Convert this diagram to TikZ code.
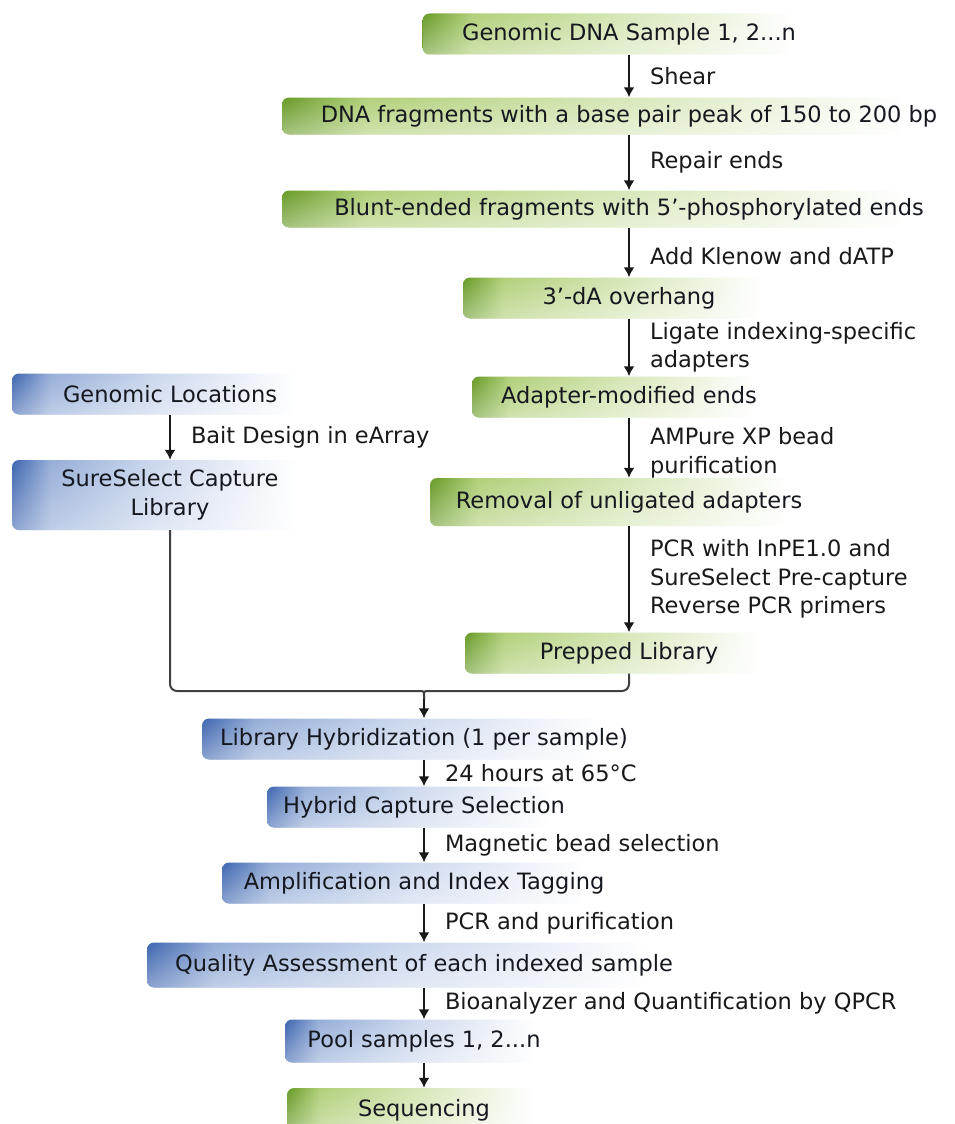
\documentclass[tikz,border=0pt]{standalone}
\usepackage{fontspec}
\setmainfont{DejaVu Sans}
\usetikzlibrary{arrows.meta,fadings}

\definecolor{grLeft}{RGB}{104,155,40}
\definecolor{grMid}{RGB}{178,208,122}
\definecolor{grPale}{RGB}{212,230,180}
\definecolor{blLeft}{RGB}{62,102,176}
\definecolor{blMid}{RGB}{150,174,216}
\definecolor{blPale}{RGB}{205,217,238}
\definecolor{inkdark}{RGB}{22,24,32}

\pgfdeclarehorizontalshading{greenfade}{100bp}{color(0bp)=(grLeft); color(25bp)=(grLeft); color(31bp)=(grMid); color(48bp)=(grPale); color(70bp)=(white); color(100bp)=(white)}
\pgfdeclarehorizontalshading{bluefade}{100bp}{color(0bp)=(blLeft); color(25bp)=(blLeft); color(31bp)=(blMid); color(48bp)=(blPale); color(70bp)=(white); color(100bp)=(white)}

\begin{document}
\begin{tikzpicture}[
    x=1pt, y=-1pt,
    font=\fontsize{22.5}{28.5}\selectfont,
    stage/.style={rounded corners=7pt, minimum height=41pt, inner sep=0pt, text=inkdark,
        path picture={\fill[white, path fading=north, fill opacity=0.4]
            (path picture bounding box.south west) rectangle (path picture bounding box.north east);}},
    greenstage/.style={stage, shading=greenfade},
    bluestage/.style={stage, shading=bluefade},
    flow/.style={-{Latex[length=10pt,width=11pt]}, line width=2pt, black!90},
    link/.style={line width=2pt, black!75},
    steplabel/.style={right, inner sep=0pt, xshift=20pt, align=left, text=black!90}
]

\fill[white] (0,0) rectangle (955,1124);
\useasboundingbox (0,0) rectangle (955,1124);

% Sample preparation
\node[greenstage, minimum width=413pt] (dna) at (629,34) {Genomic DNA Sample 1, 2...n};
\node[greenstage, minimum width=694pt, minimum height=37pt] (frag) at (629,116) {DNA fragments with a base pair peak of 150 to 200 bp};
\node[greenstage, minimum width=694pt, minimum height=37pt] (blunt) at (629,209) {Blunt-ended fragments with 5'-phosphorylated ends};
\node[greenstage, minimum width=332pt] (overhang) at (629,298) {3'-dA overhang};
\node[greenstage, minimum width=314pt] (adapter) at (629,397) {Adapter-modified ends};
\node[greenstage, minimum width=398pt, minimum height=48pt] (removal) at (629,502) {Removal of unligated adapters};
\node[greenstage, minimum width=328pt] (prepped) at (629,653) {Prepped Library};

% Capture library
\node[bluestage, minimum width=316pt] (loci) at (170,394) {Genomic Locations};
\node[bluestage, minimum width=316pt, minimum height=70pt, align=center] (bait) at (170,495) {SureSelect Capture\\Library};

% Capture and sequencing
\node[bluestage, minimum width=444pt] (hyb) at (424,739) {Library Hybridization (1 per sample)};
\node[bluestage, minimum width=314pt] (capture) at (424,807) {Hybrid Capture Selection};
\node[bluestage, minimum width=404pt] (amp) at (424,883) {Amplification and Index Tagging};
\node[bluestage, minimum width=554pt, minimum height=45pt] (qc) at (424,965) {Quality Assessment of each indexed sample};
\node[bluestage, minimum width=278pt, minimum height=43pt] (pool) at (424,1041) {Pool samples 1, 2...n};
\node[greenstage, minimum width=274pt, minimum height=44pt] (seq) at (424,1110) {Sequencing};

% Arrows
\draw[flow] (dna) -- (frag) node[steplabel, midway] {Shear};
\draw[flow] (frag) -- (blunt) node[steplabel, midway] {Repair ends};
\draw[flow] (blunt) -- (overhang) node[steplabel, midway, yshift=-4pt] {Add Klenow and dATP};
\draw[flow] (overhang) -- (adapter) node[steplabel, midway] {Ligate indexing-specific\\adapters};
\draw[flow] (adapter) -- (removal) node[steplabel, midway, yshift=-5pt] {AMPure XP bead\\purification};
\draw[flow] (removal) -- (prepped) node[steplabel, midway] {PCR with InPE1.0 and\\SureSelect Pre-capture\\Reverse PCR primers};
\draw[flow] (loci) -- (bait) node[steplabel, midway] {Bait Design in eArray};

% Merge
\coordinate (join) at (424,691);
\coordinate (fork) at (424,699);
\draw[link, rounded corners=7pt] (bait.south) |- ([xshift=-9pt]join) .. controls (join) .. (fork);
\draw[link, rounded corners=7pt] (prepped.south) |- ([xshift=9pt]join) .. controls (join) .. (fork);
\draw[flow] (fork) -- (hyb);

\draw[flow] (hyb) -- (capture) node[steplabel, midway] {24 hours at 65°C};
\draw[flow] (capture) -- (amp) node[steplabel, midway] {Magnetic bead selection};
\draw[flow] (amp) -- (qc) node[steplabel, midway] {PCR and purification};
\draw[flow] (qc) -- (pool) node[steplabel, midway] {Bioanalyzer and Quantification by QPCR};
\draw[flow] (pool) -- (seq);

\end{tikzpicture}
\end{document}
